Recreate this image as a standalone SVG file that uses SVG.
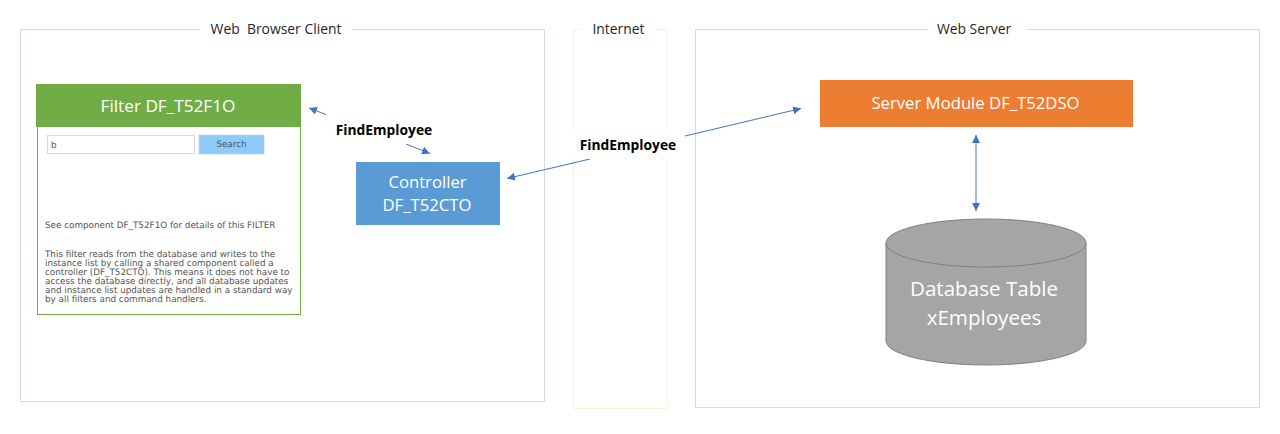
<svg xmlns="http://www.w3.org/2000/svg" width="1280" height="434" viewBox="0 0 1280 434">
<style>
.panel{fill:#fff;stroke:#d3dcea;stroke-width:1}
.t{font-family:"Open Sans","Noto Sans",sans-serif;text-anchor:middle}
.cap{font-size:13.9px;fill:#262626}
.w{fill:#fff;font-size:16.7px}
.big{fill:#fff;font-size:20.6px}
.lbl{font-size:13.8px;font-weight:700;fill:#000}
.sm{font-family:"DejaVu Sans",Verdana,sans-serif;font-size:8.8px;fill:#555;text-rendering:geometricPrecision}
.ln{stroke:#4472c4;stroke-width:1;fill:none}
</style>
<defs>
<marker id="a" viewBox="0 0 10 10" refX="10" refY="5" markerWidth="8" markerHeight="8" markerUnits="userSpaceOnUse" orient="auto-start-reverse"><path d="M0 0L10 5L0 10z" fill="#4472c4"/></marker>
</defs>
<rect width="1280" height="434" fill="#fff"/>
<g id="browser-panel">
<rect class="panel" x="20.5" y="29.5" width="524" height="372"/>
<rect x="200" y="20" width="152" height="18" fill="#fff"/>
<text class="t cap" x="276" y="34" xml:space="preserve">Web  Browser Client</text>
</g>
<g id="internet-panel">
<rect x="573.500" y="29.500" width="94" height="379" fill="#fff" stroke="#fff2cc"/>
<rect x="581" y="20" width="74" height="18" fill="#fff"/>
<text class="t cap" x="618.500" y="34">Internet</text>
</g>
<g id="server-panel">
<rect class="panel" x="695.5" y="29.5" width="564" height="378"/>
<rect x="928" y="20" width="98" height="18" fill="#fff"/>
<text class="t cap" x="974" y="34">Web Server</text>
</g>
<g id="filter">
<rect x="37.500" y="100.500" width="263" height="214" fill="#fff" stroke="#70ad47"/>
<rect x="36" y="84" width="265" height="43" fill="#70ad47"/>
<text class="t w" x="168" y="112" style="font-size:17.200px">Filter DF_T52F1O</text>
<rect x="47.500" y="135.500" width="147" height="18" fill="#fff" stroke="#d9d9d9"/>
<text class="sm" x="51" y="147.500">b</text>
<rect x="199" y="135" width="65" height="19" fill="#90caf9" stroke="#a9d4f7" stroke-width="0.6"/>
<text class="sm" x="231.500" y="147" text-anchor="middle" style="fill:#3d5a73">Search</text>
<text class="sm" x="45" y="228">See component DF_T52F1O for details of this FILTER</text>
<text class="sm" x="45" y="257">This filter reads from the database and writes to the</text>
<text class="sm" x="45" y="266">instance list by calling a shared component called a</text>
<text class="sm" x="45" y="275">controller (DF_T52CTO). This means it does not have to</text>
<text class="sm" x="45" y="284">access the database directly, and all database updates</text>
<text class="sm" x="45" y="293">and instance list updates are handled in a standard way</text>
<text class="sm" x="45" y="302">by all filters and command handlers.</text>
</g>
<g id="controller">
<rect x="356" y="162" width="144" height="63" fill="#5b9bd5"/>
<text class="t w" x="427.500" y="188">Controller</text>
<text class="t w" x="427" y="211">DF_T52CTO</text>
</g>
<g id="server-module">
<rect x="820" y="80" width="313" height="47" fill="#ed7d31"/>
<text class="t w" x="975.500" y="109">Server Module DF_T52DSO</text>
</g>
<g id="database">
<path d="M886 243V341A100 24 0 0 0 1086 341V243" fill="#a5a5a5" stroke="#7f7f7f"/>
<ellipse cx="986" cy="243" rx="100" ry="24" fill="#a5a5a5" stroke="#7f7f7f"/>
<text class="t big" x="984" y="296">Database Table</text>
<text class="t big" x="984" y="325">xEmployees</text>
</g>
<g id="connectors">
<line class="ln" x1="326" y1="114.500" x2="309" y2="108" marker-end="url(#a)"/>
<line class="ln" x1="406" y1="144" x2="430" y2="153.500" marker-end="url(#a)"/>
<line class="ln" x1="590" y1="159" x2="507" y2="178.500" marker-end="url(#a)"/>
<line class="ln" x1="685" y1="136" x2="801" y2="108.500" marker-end="url(#a)"/>
<line class="ln" x1="976" y1="135" x2="976" y2="211" marker-start="url(#a)" marker-end="url(#a)"/>
</g>
<g id="labels">
<rect x="570" y="130" width="115" height="28.500" fill="#fff"/>
<text class="t lbl" x="384" y="135">FindEmployee</text>
<text class="t lbl" x="628" y="150">FindEmployee</text>
</g>
</svg>
